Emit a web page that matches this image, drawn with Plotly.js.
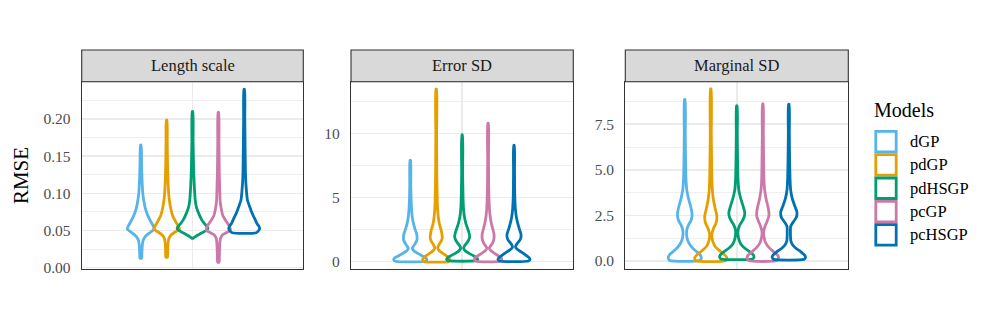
<!DOCTYPE html>
<html>
<head>
<meta charset="utf-8">
<script src="https://cdn.plot.ly/plotly-3.0.1.min.js"></script>
<style>html,body{margin:0;padding:0;background:#fff;}#chart{width:997px;height:318px;}</style>
</head>
<body>
<div id="chart"></div>
<script>
// ---------- DATA ----------
const models = ["dGP", "pdGP", "pdHSGP", "pcGP", "pcHSGP"];
const facets = ["Length scale", "Error SD", "Marginal SD"];
const colors = ["#56B4E9", "#E69F00", "#009E73", "#CC79A7", "#0072B2"];

// Density outline of each violin: RMSE grid (top -> bottom) and half-width of the density
// ---- Length scale ----
const ls_dGP_y    = [0.165, 0.14, 0.12, 0.10, 0.09, 0.08, 0.07, 0.062, 0.056, 0.052, 0.048, 0.044, 0.040, 0.036, 0.030, 0.020, 0.0126];
const ls_dGP_d    = [0.3, 0.8, 1.2, 2, 3, 4.5, 7, 10, 12.5, 13.5, 10, 6, 3.5, 2.2, 1.5, 1.1, 0.8];
const ls_pdGP_y   = [0.1985, 0.17, 0.14, 0.12, 0.10, 0.09, 0.08, 0.07, 0.062, 0.056, 0.052, 0.048, 0.044, 0.040, 0.035, 0.025, 0.014];
const ls_pdGP_d   = [0.3, 0.6, 0.9, 1.3, 2, 2.8, 4, 6, 9, 11.5, 13, 8.5, 4.5, 2.5, 1.6, 1.1, 0.8];
const ls_pdHSGP_y = [0.210, 0.17, 0.13, 0.11, 0.09, 0.08, 0.072, 0.065, 0.06, 0.056, 0.053, 0.050, 0.047, 0.044, 0.0415, 0.0395];
const ls_pdHSGP_d = [0.3, 0.6, 1.2, 1.8, 2.8, 4.2, 6.5, 9, 11.5, 14, 15.5, 13.5, 9.5, 5.5, 2.5, 0.5];
const ls_pcGP_y   = [0.209, 0.17, 0.13, 0.11, 0.09, 0.08, 0.07, 0.062, 0.056, 0.0505, 0.047, 0.044, 0.040, 0.035, 0.025, 0.015, 0.0073];
const ls_pcGP_d   = [0.3, 0.6, 0.9, 1.3, 1.8, 2.8, 4.5, 8, 11, 12, 8, 4, 2.3, 1.6, 1.2, 1, 0.7];
const ls_pcHSGP_y = [0.240, 0.20, 0.16, 0.13, 0.115, 0.104, 0.091, 0.082, 0.073, 0.066, 0.060, 0.056, 0.053, 0.050, 0.047];
const ls_pcHSGP_d = [0.3, 0.6, 0.9, 1.2, 1.6, 2.2, 3.2, 5.5, 8, 10.5, 12.5, 14.5, 15.5, 14.5, 12];
// ---- Error SD ----
const es_dGP_y    = [7.9, 6, 5, 4.2, 3.6, 3.1, 2.6, 2.2, 1.9, 1.65, 1.4, 1.2, 1.04, 0.85, 0.65, 0.45, 0.3, 0.15, 0.04];
const es_dGP_d    = [0.3, 0.5, 0.8, 1.2, 1.8, 2.8, 4.5, 6.2, 6.8, 6.5, 4.8, 3, 2, 3.5, 7.5, 12, 15.5, 16.5, 15];
const es_pdGP_y   = [13.45, 10, 7, 5, 4, 3.4, 2.9, 2.5, 2.1, 1.85, 1.6, 1.35, 1.1, 0.9, 0.7, 0.5, 0.32, 0.15, 0.02];
const es_pdGP_d   = [0.3, 0.4, 0.6, 1, 1.5, 2.2, 3.3, 4.8, 5.8, 6, 5, 3, 1.5, 2.5, 5.5, 9.5, 12.5, 13.5, 12.5];
const es_pdHSGP_y = [9.87, 7, 5, 4, 3.4, 2.9, 2.5, 2.2, 1.95, 1.7, 1.45, 1.25, 1.05, 0.85, 0.65, 0.45, 0.3, 0.18, 0.08];
const es_pdHSGP_d = [0.3, 0.5, 0.9, 1.5, 2.5, 4, 5.8, 7, 7.5, 6.5, 4.5, 2.5, 1.5, 3, 7, 11.5, 14.5, 15.5, 14];
const es_pcGP_y   = [10.78, 8, 6, 4.5, 3.7, 3.1, 2.6, 2.2, 1.9, 1.65, 1.4, 1.2, 1.05, 0.85, 0.65, 0.45, 0.3, 0.15, 0.03];
const es_pcGP_d   = [0.3, 0.4, 0.6, 1.1, 1.8, 3, 4.5, 5.8, 6, 5.5, 4, 2.2, 1.2, 2.8, 6.5, 10.5, 13, 13.5, 12];
const es_pcHSGP_y = [9.06, 7, 5, 4, 3.4, 2.9, 2.5, 2.2, 1.95, 1.7, 1.5, 1.3, 1.15, 0.95, 0.75, 0.5, 0.32, 0.18, 0.06];
const es_pcHSGP_d = [0.3, 0.5, 0.8, 1.5, 2.5, 4, 5.5, 6.8, 7, 6, 4, 2.2, 1.5, 3.5, 7.5, 12, 15, 16, 14.5];
// ---- Marginal SD ----
const ms_dGP_y    = [8.86, 7, 5.5, 4.5, 3.9, 3.4, 3.0, 2.7, 2.45, 2.2, 1.95, 1.7, 1.45, 1.2, 0.95, 0.7, 0.5, 0.32, 0.18, 0.03];
const ms_dGP_d    = [0.3, 0.5, 0.8, 1.2, 2, 3.8, 5.8, 7, 7.2, 6, 3.5, 2, 1.8, 2.5, 4.5, 8, 12, 15.5, 16.5, 15];
const ms_pdGP_y   = [9.43, 7, 5.5, 4.5, 3.8, 3.3, 2.9, 2.55, 2.3, 2.05, 1.8, 1.5, 1.25, 1.0, 0.78, 0.55, 0.35, 0.18, 0.02];
const ms_pdGP_d   = [0.3, 0.5, 0.8, 1.1, 1.7, 2.8, 4.3, 5.8, 6, 5, 2.8, 1.2, 1.3, 2.5, 4.5, 9, 13.5, 16, 15];
const ms_pdHSGP_y = [8.51, 7, 5.5, 4.5, 3.9, 3.4, 3.0, 2.7, 2.45, 2.2, 1.95, 1.7, 1.45, 1.2, 0.95, 0.7, 0.5, 0.33, 0.2, 0.11];
const ms_pdHSGP_d = [0.3, 0.5, 0.8, 1.2, 2, 4, 6.3, 7.8, 7.5, 5.5, 2.8, 1.3, 1.2, 2, 3.8, 8, 13, 16.5, 17, 15.5];
const ms_pcGP_y   = [8.61, 7, 5.5, 4.5, 3.9, 3.4, 3.0, 2.7, 2.45, 2.2, 1.95, 1.6, 1.3, 1.0, 0.75, 0.5, 0.3, 0.15, 0.02];
const ms_pcGP_d   = [0.3, 0.5, 0.8, 1.1, 1.8, 3.3, 5, 6, 6, 4.5, 2.5, 0.8, 1.2, 2.8, 6, 11, 15, 15.5, 14];
const ms_pcHSGP_y = [8.59, 7, 5.5, 4.5, 3.9, 3.4, 3.0, 2.7, 2.4, 2.15, 1.9, 1.6, 1.3, 1.1, 0.9, 0.7, 0.5, 0.3, 0.18, 0.09];
const ms_pcHSGP_d = [0.3, 0.5, 0.8, 1.2, 1.8, 3.5, 6, 8, 7.5, 4.5, 1.8, 1.6, 1.7, 2, 3.5, 7, 12, 16, 16.5, 15];

const yTicksLS = [0, 0.05, 0.10, 0.15, 0.20];
const yTicksES = [0, 5, 10];
const yTicksMS = [0, 2.5, 5.0, 7.5];

// ---------- BUILD ----------
const profiles = [
  [[ls_dGP_y, ls_dGP_d], [ls_pdGP_y, ls_pdGP_d], [ls_pdHSGP_y, ls_pdHSGP_d], [ls_pcGP_y, ls_pcGP_d], [ls_pcHSGP_y, ls_pcHSGP_d]],
  [[es_dGP_y, es_dGP_d], [es_pdGP_y, es_pdGP_d], [es_pdHSGP_y, es_pdHSGP_d], [es_pcGP_y, es_pcGP_d], [es_pcHSGP_y, es_pcHSGP_d]],
  [[ms_dGP_y, ms_dGP_d], [ms_pdGP_y, ms_pdGP_d], [ms_pdHSGP_y, ms_pdHSGP_d], [ms_pcGP_y, ms_pcGP_d], [ms_pcHSGP_y, ms_pcHSGP_d]]
];

const FONT = 'Liberation Serif, Times New Roman, serif';
const DODGE = 0.14;          // dodge spacing (x units)
const WSCALE = 1 / 184.7;    // density -> x units

const traces = [];
profiles.forEach((panel, p) => {
  const xa = p === 0 ? 'x' : 'x' + (p + 1);
  const ya = p === 0 ? 'y' : 'y' + (p + 1);
  panel.forEach(([ys, ds], m) => {
    const c = (m - 2) * DODGE;
    const xs = [], yy = [];
    for (let i = 0; i < ys.length; i++) { xs.push(c - ds[i] * WSCALE); yy.push(ys[i]); }
    for (let i = ys.length - 1; i >= 0; i--) { xs.push(c + ds[i] * WSCALE); yy.push(ys[i]); }
    xs.push(xs[0]); yy.push(yy[0]);
    traces.push({
      type: 'scatter', mode: 'lines', x: xs, y: yy, xaxis: xa, yaxis: ya,
      name: models[m], showlegend: false, hoverinfo: 'skip',
      line: {color: colors[m], width: 2.8, shape: 'spline', smoothing: 0.6}
    });
  });
});

const W = 997, H = 318;
const panelX = [[81.7, 303.3], [351, 573.3], [625.3, 848.3]];
const panelY = [81.7, 269.3];
const stripTop = 50;
const yRanges = [[-0.0022, 0.2502], [-0.592, 14.02], [-0.455, 9.83]];
const yTicks = [yTicksLS, yTicksES, yTicksMS];
const yFmt = ['.2f', 'd', '.1f'];
const yMinor = [0.025, 2.5, 1.25];

const layout = {
  width: W, height: H,
  margin: {l: 0, r: 0, t: 0, b: 0},
  paper_bgcolor: '#ffffff', plot_bgcolor: '#ffffff',
  showlegend: false,
  font: {family: FONT, color: '#4D4D4D'},
  shapes: [], annotations: []
};

for (let p = 0; p < 3; p++) {
  const sx = p === 0 ? '' : String(p + 1);
  layout['xaxis' + sx] = {
    domain: [panelX[p][0] / W, panelX[p][1] / W],
    range: [-0.6, 0.6], anchor: 'y' + sx,
    tickvals: [0], showticklabels: false, ticks: '',
    showgrid: true, gridcolor: '#EBEBEB', gridwidth: 1.5, zeroline: false,
    showline: true, linecolor: '#333333', linewidth: 1.1, mirror: true, fixedrange: true
  };
  layout['yaxis' + sx] = {
    domain: [1 - panelY[1] / H, 1 - panelY[0] / H],
    range: yRanges[p], anchor: 'x' + sx,
    tickvals: yTicks[p], tickformat: yFmt[p], ticks: '',
    ticklabelstandoff: 7,
    tickfont: {family: FONT, size: 15.5, color: '#4D4D4D'},
    showgrid: true, gridcolor: '#EBEBEB', gridwidth: 1.5, zeroline: false,
    minor: {dtick: yMinor[p], tick0: 0, showgrid: true, gridcolor: '#EBEBEB', gridwidth: 0.8, ticks: ''},
    showline: true, linecolor: '#333333', linewidth: 1.1, mirror: true, fixedrange: true
  };
  // strip
  layout.shapes.push({
    type: 'rect', xref: 'paper', yref: 'paper',
    x0: panelX[p][0] / W, x1: panelX[p][1] / W,
    y0: 1 - panelY[0] / H, y1: 1 - stripTop / H,
    fillcolor: '#D9D9D9', line: {color: '#333333', width: 1.1}
  });
  layout.annotations.push({
    xref: 'paper', yref: 'paper', showarrow: false,
    x: (panelX[p][0] + panelX[p][1]) / 2 / W, y: 1 - (stripTop + panelY[0]) / 2 / H,
    xanchor: 'center', yanchor: 'middle',
    text: facets[p], font: {family: FONT, size: 16.5, color: '#1A1A1A'}
  });
}
layout.yaxis.title = {text: 'RMSE', standoff: 9, font: {family: FONT, size: 21, color: '#000000'}};

// legend (manual)
layout.annotations.push({
  xref: 'paper', yref: 'paper', showarrow: false,
  x: 872 / W, y: 1 - 110 / H, xanchor: 'left', yanchor: 'middle',
  text: 'Models', font: {family: FONT, size: 20, color: '#000000'}
});
models.forEach((m, i) => {
  const top = 131.4 + 23.3 * i;
  layout.shapes.push({
    type: 'rect', xref: 'paper', yref: 'paper',
    x0: 875.8 / W, x1: 896.2 / W, y0: 1 - (top + 20.5) / H, y1: 1 - top / H,
    fillcolor: '#ffffff', line: {color: colors[i], width: 2.8}
  });
  layout.annotations.push({
    xref: 'paper', yref: 'paper', showarrow: false,
    x: 908 / W, y: 1 - (top + 10.25) / H, xanchor: 'left', yanchor: 'middle',
    text: m, font: {family: FONT, size: 16.5, color: '#000000'}
  });
});

Plotly.newPlot('chart', traces, layout, {staticPlot: true, displayModeBar: false});
</script>
</body>
</html>
